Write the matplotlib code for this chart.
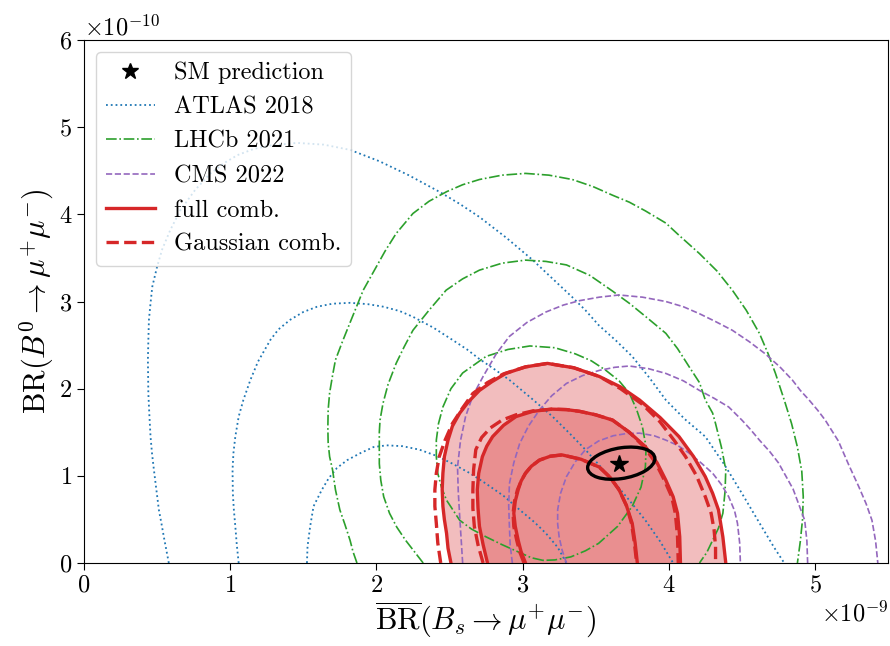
import matplotlib
matplotlib.use("Agg")
import matplotlib.pyplot as plt
from matplotlib.patches import Ellipse
import numpy as np

plt.rcParams['font.family'] = 'serif'
plt.rcParams['font.serif'] = ['cmr10']
plt.rcParams['mathtext.fontset'] = 'cm'
plt.rcParams['axes.formatter.use_mathtext'] = True
plt.rcParams['axes.unicode_minus'] = False

# contour vertices
# x in units of 1e-9 (BR Bs), y in units of 1e-10 (BR B0)
atlas_1s_x = [1.525, 1.529, 1.547, 1.57, 1.627, 1.673, 1.73, 1.80, 1.89, 1.98,
              2.07, 2.18, 2.295, 2.41, 2.52, 2.64, 2.75, 2.87, 2.98, 3.08,
              3.16, 3.24, 3.30]
atlas_1s_y = [0, 0.19, 0.42, 0.65, 0.84, 0.97, 1.09, 1.18, 1.26, 1.33,
              1.35, 1.34, 1.30, 1.23, 1.14, 1.03, 0.91, 0.77, 0.61, 0.47,
              0.34, 0.18, 0]
atlas_2s_x = [1.058, 1.045, 1.035, 1.025, 1.018, 1.016, 1.022, 1.035, 1.058, 1.09,
              1.138, 1.19, 1.275, 1.33, 1.41, 1.50, 1.594, 1.70, 1.82, 1.94,
              2.05, 2.16, 2.25, 2.39, 2.52, 2.62, 2.705, 2.81, 2.91, 3.06,
              3.205, 3.32, 3.43, 3.52, 3.615, 3.73, 3.84, 3.94, 4.03]
atlas_2s_y = [0, 0.21, 0.42, 0.61, 0.80, 1.07, 1.26, 1.45, 1.68, 1.87,
              2.10, 2.31, 2.56, 2.68, 2.79, 2.88, 2.94, 2.975, 2.985, 2.97,
              2.94, 2.89, 2.825, 2.70, 2.56, 2.45, 2.34, 2.22, 2.10, 1.89,
              1.68, 1.49, 1.30, 1.13, 0.95, 0.72, 0.49, 0.25, 0]
atlas_3s_x = [0.58, 0.563, 0.546, 0.53, 0.512, 0.495, 0.478, 0.465, 0.455, 0.447,
              0.44, 0.437, 0.44, 0.444, 0.455, 0.467, 0.50, 0.535, 0.59, 0.66,
              0.76, 0.865, 0.96, 1.05, 1.16, 1.275, 1.457, 1.64, 1.82, 2.02,
              2.22, 2.43, 2.57, 2.705, 2.89, 3.07, 3.20, 3.34, 3.43, 3.52,
              3.64, 3.75, 3.87, 3.98, 4.11, 4.25, 4.38, 4.50, 4.62, 4.72, 4.79]
atlas_3s_y = [0, 0.15, 0.30, 0.45, 0.61, 0.84, 1.07, 1.26, 1.45, 1.70,
              1.95, 2.33, 2.55, 2.79, 2.98, 3.17, 3.40, 3.60, 3.82, 4.05,
              4.28, 4.47, 4.59, 4.68, 4.75, 4.79, 4.82, 4.80, 4.74, 4.61,
              4.45, 4.26, 4.12, 3.97, 3.73, 3.475, 3.27, 3.05, 2.90, 2.73,
              2.55, 2.37, 2.12, 1.87, 1.65, 1.45, 1.13, 0.80, 0.46, 0.18, 0]

lhcb_1s_x = [3.14, 3.06, 2.98, 2.86, 2.75, 2.65, 2.57, 2.48, 2.445, 2.42,
             2.41, 2.41, 2.425, 2.455, 2.51, 2.59, 2.75, 2.90, 3.05, 3.22,
             3.36, 3.47, 3.57, 3.66, 3.73, 3.78, 3.82, 3.845, 3.84, 3.81,
             3.75, 3.65, 3.52, 3.43, 3.33, 3.22, 3.14]
lhcb_1s_y = [0.03, 0.06, 0.12, 0.21, 0.30, 0.39, 0.49, 0.72, 0.87, 1.03,
             1.22, 1.41, 1.60, 1.79, 2.00, 2.18, 2.37, 2.45, 2.49, 2.47,
             2.40, 2.32, 2.21, 2.09, 1.95, 1.76, 1.56, 1.33, 1.10, 0.87,
             0.65, 0.42, 0.225, 0.14, 0.07, 0.035, 0.03]
lhcb_2s_x = [2.32, 2.26, 2.20, 2.14, 2.09, 2.05, 2.03, 2.02, 2.02, 2.02,
             2.025, 2.045, 2.08, 2.135, 2.19, 2.25, 2.36, 2.477, 2.59, 2.705,
             2.86, 3.02, 3.16, 3.30, 3.46, 3.615, 3.73, 3.84, 3.98, 4.06,
             4.14, 4.21, 4.25, 4.30, 4.32, 4.36, 4.39, 4.385, 4.37, 4.34,
             4.30, 4.26, 4.21]
lhcb_2s_y = [0, 0.13, 0.26, 0.41, 0.57, 0.76, 0.95, 1.14, 1.33, 1.50,
             1.64, 1.83, 2.05, 2.29, 2.48, 2.67, 2.90, 3.13, 3.26, 3.36,
             3.44, 3.475, 3.46, 3.42, 3.30, 3.12, 2.98, 2.83, 2.635, 2.46,
             2.25, 2.07, 1.87, 1.72, 1.60, 1.33, 1.07, 0.82, 0.57, 0.40,
             0.26, 0.12, 0]
lhcb_3s_x = [1.867, 1.84, 1.82, 1.785, 1.75, 1.72, 1.70, 1.68, 1.67, 1.668,
             1.67, 1.68, 1.70, 1.72, 1.77, 1.83, 1.91, 2.00, 2.06, 2.135,
             2.25, 2.36, 2.48, 2.59, 2.705, 2.86, 3.02, 3.18, 3.34, 3.48,
             3.615, 3.73, 3.84, 3.98, 4.07, 4.21, 4.33, 4.435, 4.53, 4.62,
             4.68, 4.73, 4.79, 4.84, 4.88, 4.91, 4.92, 4.915, 4.90, 4.88]
lhcb_3s_y = [0, 0.13, 0.26, 0.44, 0.61, 0.84, 1.07, 1.22, 1.38, 1.55,
             1.755, 1.95, 2.15, 2.33, 2.55, 2.80, 3.13, 3.40, 3.58, 3.78,
             4.01, 4.15, 4.26, 4.34, 4.40, 4.45, 4.47, 4.45, 4.40, 4.32,
             4.22, 4.14, 4.04, 3.90, 3.76, 3.55, 3.35, 3.13, 2.90, 2.635,
             2.40, 2.175, 1.87, 1.60, 1.33, 1.05, 0.76, 0.50, 0.25, 0]

cms_1s_x = [3.30, 3.27, 3.25, 3.24, 3.24, 3.26, 3.30, 3.36, 3.43, 3.52,
            3.62, 3.71, 3.80, 3.90, 3.98, 4.06, 4.14, 4.22, 4.30, 4.36,
            4.41, 4.45, 4.47, 4.485, 4.49]
cms_1s_y = [0, 0.15, 0.30, 0.45, 0.61, 0.80, 0.99, 1.16, 1.30, 1.40,
            1.46, 1.485, 1.49, 1.46, 1.41, 1.35, 1.26, 1.15, 1.03, 0.90,
            0.76, 0.60, 0.455, 0.23, 0]
cms_2s_x = [2.93, 2.915, 2.91, 2.905, 2.91, 2.94, 2.98, 3.04, 3.115, 3.20,
            3.30, 3.41, 3.525, 3.63, 3.73, 3.86, 3.98, 4.10, 4.21, 4.31,
            4.41, 4.50, 4.56, 4.62, 4.69, 4.75, 4.80, 4.85, 4.89, 4.93,
            4.945, 4.95]
cms_2s_y = [0, 0.21, 0.42, 0.66, 0.91, 1.15, 1.37, 1.57, 1.755, 1.92,
            2.06, 2.15, 2.21, 2.245, 2.26, 2.23, 2.175, 2.09, 1.98, 1.89,
            1.79, 1.64, 1.53, 1.41, 1.28, 1.15, 1.00, 0.85, 0.67, 0.49,
            0.25, 0]
cms_3s_x = [2.59, 2.58, 2.57, 2.56, 2.555, 2.575, 2.61, 2.66, 2.73, 2.82,
            2.91, 3.03, 3.16, 3.28, 3.39, 3.525, 3.66, 3.82, 3.98, 4.10,
            4.21, 4.32, 4.435, 4.55, 4.66, 4.76, 4.845, 4.90, 4.96, 5.02,
            5.07, 5.16, 5.23, 5.30, 5.35, 5.39, 5.415, 5.43]
cms_3s_y = [0, 0.27, 0.53, 0.82, 1.10, 1.40, 1.68, 1.92, 2.14, 2.40,
            2.60, 2.76, 2.88, 2.96, 3.01, 3.05, 3.075, 3.05, 3.00, 2.94,
            2.86, 2.77, 2.67, 2.54, 2.40, 2.25, 2.10, 1.98, 1.87, 1.75,
            1.64, 1.40, 1.13, 0.875, 0.68, 0.49, 0.25, 0]

full_1s_x = [3.02, 2.99, 2.97, 2.95, 2.94, 2.95, 2.97, 2.99, 3.02, 3.06,
             3.115, 3.19, 3.27, 3.40, 3.525, 3.60, 3.66, 3.71, 3.75, 3.77,
             3.785]
full_1s_y = [0, 0.13, 0.26, 0.42, 0.57, 0.71, 0.84, 0.94, 1.03, 1.11,
             1.18, 1.225, 1.24, 1.19, 1.10, 0.98, 0.84, 0.66, 0.455, 0.23,
             0]
full_2s_x = [2.76, 2.73, 2.705, 2.695, 2.69, 2.70, 2.725, 2.755, 2.795, 2.87,
             2.955, 3.07, 3.20, 3.30, 3.39, 3.50, 3.615, 3.73, 3.84, 3.92,
             3.98, 4.03, 4.06, 4.075, 4.08]
full_2s_y = [0, 0.21, 0.42, 0.63, 0.84, 1.03, 1.22, 1.34, 1.45, 1.58,
             1.68, 1.74, 1.765, 1.76, 1.74, 1.70, 1.64, 1.50, 1.335, 1.15,
             0.95, 0.76, 0.57, 0.30, 0]
full_3s_x = [2.51, 2.49, 2.48, 2.465, 2.455, 2.45, 2.455, 2.465, 2.49, 2.52,
             2.57, 2.63, 2.705, 2.79, 2.885, 3.02, 3.17, 3.35, 3.525, 3.67,
             3.80, 3.94, 4.07, 4.17, 4.25, 4.30, 4.34, 4.37, 4.39]
full_3s_y = [0, 0.17, 0.34, 0.50, 0.65, 0.84, 1.03, 1.22, 1.41, 1.57,
             1.72, 1.85, 1.98, 2.08, 2.175, 2.25, 2.29, 2.24, 2.14, 2.02,
             1.87, 1.67, 1.45, 1.22, 0.99, 0.80, 0.61, 0.30, 0]

gauss_1s_x = [3.01, 2.98, 2.96, 2.94, 2.935, 2.945, 2.965, 2.99, 3.02, 3.06,
              3.115, 3.19, 3.27, 3.40, 3.525, 3.60, 3.66, 3.71, 3.745, 3.765,
              3.78]
gauss_1s_y = full_1s_y
gauss_2s_x = [2.73, 2.695, 2.67, 2.66, 2.66, 2.665, 2.68, 2.72, 2.78, 2.86,
              2.955, 3.07, 3.20, 3.30, 3.39, 3.50, 3.615, 3.73, 3.83, 3.91,
              3.97, 4.02, 4.045, 4.06, 4.065]
gauss_2s_y = [0, 0.21, 0.42, 0.63, 0.84, 1.07, 1.30, 1.44, 1.55, 1.64,
              1.70, 1.745, 1.765, 1.76, 1.74, 1.70, 1.64, 1.50, 1.335, 1.15,
              0.95, 0.76, 0.57, 0.30, 0]
gauss_3s_x = [2.44, 2.42, 2.41, 2.40, 2.40, 2.41, 2.43, 2.47, 2.52, 2.59,
              2.66, 2.76, 2.87, 3.02, 3.17, 3.35, 3.525, 3.67, 3.82, 3.94,
              4.04, 4.115, 4.19, 4.25, 4.29, 4.31, 4.32, 4.32]
gauss_3s_y = [0, 0.23, 0.455, 0.65, 0.84, 1.03, 1.22, 1.41, 1.60, 1.78,
              1.945, 2.07, 2.17, 2.25, 2.29, 2.24, 2.14, 2.00, 1.82, 1.62,
              1.40, 1.22, 1.00, 0.76, 0.57, 0.38, 0.19, 0]

# SM prediction and its uncertainty ellipse
sm_center = (3.675, 1.145)
sm_width = 0.46
sm_height = 0.355
sm_angle = 1.3
sm_point = (3.66, 1.14)

xscale = 1e-9
yscale = 1e-10
fs = 17.5


def sc(xs, ys):
    return np.array(xs) * xscale, np.array(ys) * yscale


fig = plt.figure(figsize=(8.9, 6.46), dpi=100)
ax = fig.add_axes([0.0944, 0.1285, 0.9034, 0.8095])

red = 'tab:red'

# filled regions of the full combination
ax.fill(*sc(full_3s_x, full_3s_y), color=red, alpha=0.3, lw=0, zorder=1)
ax.fill(*sc(full_2s_x, full_2s_y), color=red, alpha=0.3, lw=0, zorder=1)

for xs, ys in [(atlas_1s_x, atlas_1s_y), (atlas_2s_x, atlas_2s_y),
               (atlas_3s_x, atlas_3s_y)]:
    ax.plot(*sc(xs, ys), color='tab:blue', ls=':', lw=1.3, zorder=2)
for xs, ys in [(lhcb_1s_x, lhcb_1s_y), (lhcb_2s_x, lhcb_2s_y),
               (lhcb_3s_x, lhcb_3s_y)]:
    ax.plot(*sc(xs, ys), color='tab:green', ls='-.', lw=1.2, zorder=2)
for xs, ys in [(cms_1s_x, cms_1s_y), (cms_2s_x, cms_2s_y),
               (cms_3s_x, cms_3s_y)]:
    ax.plot(*sc(xs, ys), color='tab:purple', ls='--', lw=1.2, zorder=2)
for xs, ys in [(full_1s_x, full_1s_y), (full_2s_x, full_2s_y),
               (full_3s_x, full_3s_y)]:
    ax.plot(*sc(xs, ys), color=red, ls='-', lw=2.4, zorder=3)
for xs, ys in [(gauss_1s_x, gauss_1s_y), (gauss_2s_x, gauss_2s_y),
               (gauss_3s_x, gauss_3s_y)]:
    ax.plot(*sc(xs, ys), color=red, ls='--', lw=2.4, zorder=3)

ax.add_patch(Ellipse((sm_center[0] * xscale, sm_center[1] * yscale),
                     sm_width * xscale, sm_height * yscale, angle=sm_angle,
                     fill=False, ec='k', lw=2.4, zorder=4))
ax.plot(sm_point[0] * xscale, sm_point[1] * yscale, ls='none', marker='*',
        ms=13, color='k', zorder=5)

# legend proxies
ax.plot([], [], ls='none', marker='*', ms=12, color='k', label='SM prediction')
ax.plot([], [], color='tab:blue', ls=':', lw=1.3, label='ATLAS 2018')
ax.plot([], [], color='tab:green', ls='-.', lw=1.2, label='LHCb 2021')
ax.plot([], [], color='tab:purple', ls='--', lw=1.2, label='CMS 2022')
ax.plot([], [], color=red, ls='-', lw=2.4, label='full comb.')
ax.plot([], [], color=red, ls='--', lw=2.4, label='Gaussian comb.')

ax.set_xlim(0, 5.5e-9)
ax.set_ylim(0, 6e-10)
ax.set_xticks(np.arange(0, 6) * 1e-9)
ax.set_yticks(np.arange(0, 7) * 1e-10)
ax.tick_params(labelsize=fs, direction='out', length=5)
ax.xaxis.get_offset_text().set_fontsize(fs)
ax.yaxis.get_offset_text().set_fontsize(fs)

ax.set_xlabel(r'$\overline{\mathrm{BR}}(B_s \to \mu^{+}\mu^{-})$', fontsize=22,
              labelpad=2)
ax.set_ylabel(r'$\mathrm{BR}(B^0 \to \mu^{+}\mu^{-})$', fontsize=22,
              labelpad=2)

ax.legend(loc='upper left', fontsize=fs)

fig.savefig('out.png', dpi=100)
